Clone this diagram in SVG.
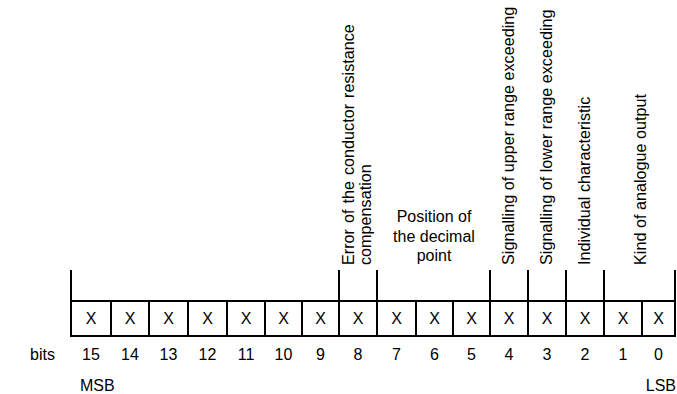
<svg xmlns="http://www.w3.org/2000/svg" width="677" height="394" viewBox="0 0 677 394">
<style>
text{font-family:"Liberation Sans",Arial,sans-serif;fill:#000;font-size:16px}
.c{text-anchor:middle}
.r{font-size:16.2px}
line{stroke:#000;stroke-width:2}
</style>
<rect width="677" height="394" fill="#fff"/>
<g id="register">
<line x1="70" y1="301" x2="676" y2="301"/>
<line x1="70" y1="336" x2="676" y2="336"/>
<line x1="71" y1="300" x2="71" y2="337"/>
<line x1="111" y1="300" x2="111" y2="337"/>
<line x1="149" y1="300" x2="149" y2="337"/>
<line x1="188" y1="300" x2="188" y2="337"/>
<line x1="227" y1="300" x2="227" y2="337"/>
<line x1="265" y1="300" x2="265" y2="337"/>
<line x1="302" y1="300" x2="302" y2="337"/>
<line x1="339" y1="300" x2="339" y2="337"/>
<line x1="377" y1="300" x2="377" y2="337"/>
<line x1="416" y1="300" x2="416" y2="337"/>
<line x1="453" y1="300" x2="453" y2="337"/>
<line x1="490" y1="300" x2="490" y2="337"/>
<line x1="528" y1="300" x2="528" y2="337"/>
<line x1="566" y1="300" x2="566" y2="337"/>
<line x1="604" y1="300" x2="604" y2="337"/>
<line x1="642" y1="300" x2="642" y2="337"/>
<line x1="675" y1="300" x2="675" y2="337"/>
<g class="c">
<text x="91" y="324" class="c">X</text>
<text x="130" y="324" class="c">X</text>
<text x="168.5" y="324" class="c">X</text>
<text x="207.5" y="324" class="c">X</text>
<text x="246" y="324" class="c">X</text>
<text x="283.5" y="324" class="c">X</text>
<text x="320.5" y="324" class="c">X</text>
<text x="358" y="324" class="c">X</text>
<text x="396.5" y="324" class="c">X</text>
<text x="434.5" y="324" class="c">X</text>
<text x="471.5" y="324" class="c">X</text>
<text x="509" y="324" class="c">X</text>
<text x="547" y="324" class="c">X</text>
<text x="585" y="324" class="c">X</text>
<text x="623" y="324" class="c">X</text>
<text x="658.5" y="324" class="c">X</text>
</g>
</g>
<g id="bit-numbers">
<text x="30" y="360">bits</text>
<text x="91" y="360" class="c">15</text>
<text x="130" y="360" class="c">14</text>
<text x="168.5" y="360" class="c">13</text>
<text x="207.5" y="360" class="c">12</text>
<text x="246" y="360" class="c">11</text>
<text x="283.5" y="360" class="c">10</text>
<text x="320.5" y="360" class="c">9</text>
<text x="358" y="360" class="c">8</text>
<text x="396.5" y="360" class="c">7</text>
<text x="434.5" y="360" class="c">6</text>
<text x="471.5" y="360" class="c">5</text>
<text x="509" y="360" class="c">4</text>
<text x="547" y="360" class="c">3</text>
<text x="585" y="360" class="c">2</text>
<text x="623" y="360" class="c">1</text>
<text x="658.5" y="360" class="c">0</text>
<text x="80" y="391">MSB</text>
<text x="676" y="391" text-anchor="end">LSB</text>
</g>
<g id="connectors">
<line x1="71" y1="270" x2="71" y2="301"/>
<line x1="339" y1="270" x2="339" y2="301"/>
<line x1="377" y1="270" x2="377" y2="301"/>
<line x1="490" y1="270" x2="490" y2="301"/>
<line x1="528" y1="270" x2="528" y2="301"/>
<line x1="566" y1="270" x2="566" y2="301"/>
<line x1="604" y1="270" x2="604" y2="301"/>
<line x1="675" y1="270" x2="675" y2="301"/>
</g>
<g id="label-bit8">
<text class="r" word-spacing="1.5" transform="translate(354,265) rotate(-90)">Error of the conductor resistance</text>
<text class="r" transform="translate(371,265) rotate(-90)">compensation</text>
</g>
<g id="label-bits7-5">
<text x="434" y="222" class="c">Position of</text>
<text x="434" y="242" class="c">the decimal</text>
<text x="434" y="261" class="c">point</text>
</g>
<g id="label-bit4">
<text class="r" transform="translate(514,265) rotate(-90)">Signalling of upper range exceeding</text>
</g>
<g id="label-bit3">
<text class="r" transform="translate(552,265) rotate(-90)">Signalling of lower range exceeding</text>
</g>
<g id="label-bit2">
<text class="r" transform="translate(590,265) rotate(-90)">Individual characteristic</text>
</g>
<g id="label-bits1-0">
<text class="r" transform="translate(646,265) rotate(-90)">Kind of analogue output</text>
</g>
</svg>
